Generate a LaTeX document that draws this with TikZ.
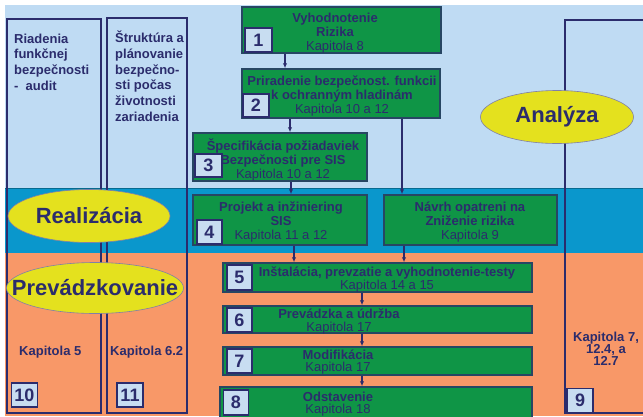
\documentclass[tikz,border=0pt]{standalone}
\usepackage{fontspec}
\setmainfont{Liberation Sans}
\usetikzlibrary{shapes.geometric,arrows.meta}
\definecolor{lightbg}{HTML}{BFDBF3}
\definecolor{bandblue}{HTML}{0A97CC}
\definecolor{orangebg}{HTML}{F89868}
\definecolor{gfill}{HTML}{0F9546}
\definecolor{gline}{HTML}{274663}
\definecolor{navy}{HTML}{2B2C6C}
\definecolor{yell}{HTML}{E4E11E}
\definecolor{numfill}{HTML}{C8DDF1}
\tikzset{
  gbox/.style={draw=gline, fill=gfill, line width=1.5pt, inner sep=0pt},
  numbox/.style={draw=navy, fill=numfill, line width=1.2pt, inner sep=0pt,
    minimum width=26pt, minimum height=24pt, text=navy,
    font=\fontsize{18}{18}\selectfont\bfseries},
  colbox/.style={draw=navy, line width=1.8pt, inner sep=0pt},
  yellip/.style={ellipse, draw=navy!60, fill=yell, line width=0.6pt, inner sep=0pt},
  bigtxt/.style={text=navy, font=\fontsize{22}{22}\selectfont\bfseries},
  btxt/.style={text=navy, align=center, inner sep=0pt, font=\fontsize{13}{14}\selectfont},
  ltxt/.style={text=navy, align=left, inner sep=0pt, font=\fontsize{13}{15.7}\selectfont\bfseries},
  arr/.style={draw=navy, line width=1.4pt, -{Latex[length=5pt,width=4.5pt]}}
}
\begin{document}
\begin{tikzpicture}[x=1pt,y=-1pt]
\useasboundingbox (0,0) rectangle (643,416);
% backgrounds
\fill[white] (0,0) rectangle (643,416);
\fill[lightbg] (5,5) rectangle (643,188);
\fill[bandblue] (5,188) rectangle (643,253);
\fill[orangebg] (5,253) rectangle (643,416);
\draw[bandblue!70!black, line width=0.8pt] (5,188) -- (643,188);

% side columns
\node[colbox, minimum width=94pt, minimum height=394pt] (col1) at (54,216) {};
\node[colbox, minimum width=80pt, minimum height=395pt] (col2) at (147,215.5) {};
\draw[navy, line width=1.8pt] (643,20) -- (565,20) -- (565,413) -- (643,413);

\node[ltxt, anchor=north west] (t1) at (14,33.6) {Riadenia\\funkčnej\\bezpečnosti\\-\ \ audit};
\node[ltxt, anchor=north west] (t2) at (115,30.8) {Štruktúra a\\plánovanie\\bezpečno-\\sti počas\\životnosti\\zariadenia};
\node[ltxt, anchor=base west] (k5) at (19,355) {Kapitola 5};
\node[ltxt, anchor=base west] (k62) at (110,355) {Kapitola 6.2};
\node[ltxt, align=center, anchor=center, font=\fontsize{13}{12}\selectfont\bfseries] (k7) at (606,348.5) {Kapitola 7,\\12.4, a\\12.7};

\node[numbox] (n10) at (24.5,395) {10};
\node[numbox] (n11) at (130,395) {11};
\node[numbox] (n9) at (580,400.5) {9};

% green boxes
\node[gbox, minimum width=199pt, minimum height=46pt] (b1) at (341.5,30) {};
\node[gbox, minimum width=198pt, minimum height=49pt] (b2) at (341,93.5) {};
\node[gbox, minimum width=174pt, minimum height=48pt] (b3) at (280,157) {};
\node[gbox, minimum width=174pt, minimum height=50pt] (b4) at (280,220) {};
\node[gbox, minimum width=173pt, minimum height=50pt] (bn) at (470.5,220) {};
\node[gbox, minimum width=309pt, minimum height=29pt] (b5) at (377.5,277.5) {};
\node[gbox, minimum width=309pt, minimum height=27pt] (b6) at (377.5,319.5) {};
\node[gbox, minimum width=309pt, minimum height=28pt] (b7) at (377.5,361) {};
\node[gbox, minimum width=312pt, minimum height=34pt] (b8) at (376,404) {};

% box texts
\node[btxt] (x1) at (335,33) {\textbf{Vyhodnotenie}\\\textbf{Rizika}\\Kapitola 8};
\node[btxt] (x2) at (342,96) {\textbf{Priradenie bezpečnost. funkcii}\\\textbf{k ochranným hladinám}\\Kapitola 10 a 12};
\node[btxt] (x3) at (283,160) {\textbf{Špecifikácia požiadaviek}\\\textbf{Bezpečnosti pre SIS}\\Kapitola 10 a 12};
\node[btxt] (x4) at (281,222) {\textbf{Projekt a inžiniering}\\\textbf{SIS}\\Kapitola 11 a 12};
\node[btxt] (xn) at (470,222) {\textbf{Návrh opatreni na}\\\textbf{Zniženie rizika}\\Kapitola 9};
\node[btxt, font=\fontsize{13}{12.5}\selectfont] (x5) at (387,279.5) {\textbf{Inštalácia, prevzatie a vyhodnotenie-testy}\\Kapitola 14 a 15};
\node[btxt, font=\fontsize{13}{13}\selectfont] (x6) at (339,321) {\textbf{Prevádzka a údržba}\\Kapitola 17};
\node[btxt, font=\fontsize{13}{12}\selectfont] (x7) at (338,362.5) {\textbf{Modifikácia}\\Kapitola 17};
\node[btxt, font=\fontsize{13}{12}\selectfont] (x8) at (338,404) {\textbf{Odstavenie}\\Kapitola 18};

% number boxes
\node[numbox, minimum width=27pt] (n1) at (258.5,40) {1};
\node[numbox, minimum height=23pt] (n2) at (256,105.5) {2};
\node[numbox, minimum width=27pt, minimum height=23pt] (n3) at (208.5,165.5) {3};
\node[numbox, minimum width=25pt] (n4) at (209.5,232) {4};
\node[numbox, minimum width=25pt, minimum height=25pt] (n5) at (239.5,277.5) {5};
\node[numbox, minimum width=25pt] (n6) at (239.5,320) {6};
\node[numbox, minimum width=25pt] (n7) at (239.5,361) {7};
\node[numbox, minimum width=25pt, minimum height=25pt] (n8) at (236,402.5) {8};

% arrows
\coordinate (a1) at (285,0);
\coordinate (a2) at (290,0);
\coordinate (a3) at (291,0);
\coordinate (a4) at (402,0);
\coordinate (a5) at (294,0);
\coordinate (a6) at (404,0);
\coordinate (a7) at (362,0);
\draw[arr] (b1.south -| a1) -- (b2.north -| a1);
\draw[arr] (b2.south -| a2) -- (b3.north -| a2);
\draw[arr] (b3.south -| a3) -- (b4.north -| a3);
\draw[arr] (b2.south -| a4) -- (bn.north -| a4);
\draw[arr] (b4.south -| a5) -- (b5.north -| a5);
\draw[arr] (bn.south -| a6) -- (b5.north -| a6);
\draw[arr] (b5.south -| a7) -- (b6.north -| a7);
\draw[arr] (b6.south -| a7) -- (b7.north -| a7);
\draw[arr] (b7.south -| a7) -- (b8.north -| a7);

% ellipses
\node[yellip, minimum width=153pt, minimum height=53pt] (ea) at (557,117) {};
\node[bigtxt] (eat) at (ea) {Analýza};
\node[yellip, minimum width=162pt, minimum height=53pt] (er) at (89,216) {};
\node[bigtxt] (ert) at (er) {Realizácia};
\node[yellip, minimum width=177pt, minimum height=51pt] (ep) at (95,288) {};
\node[bigtxt] (ept) at (ep) {Prevádzkovanie};
\end{tikzpicture}
\end{document}
